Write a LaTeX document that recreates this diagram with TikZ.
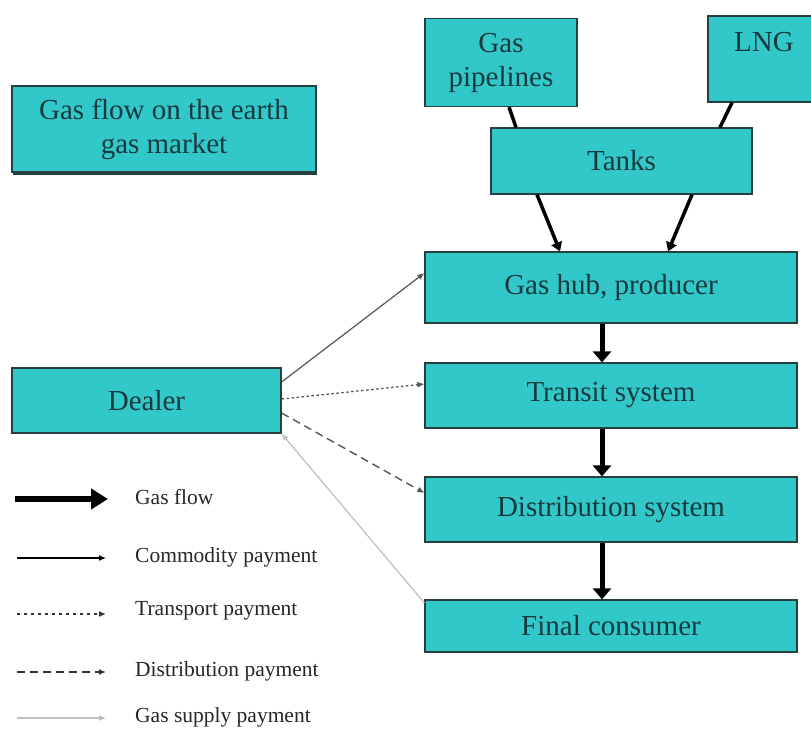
\documentclass[tikz,border=0pt]{standalone}
\usepackage{fontspec}
\setmainfont{Liberation Serif}
\usetikzlibrary{arrows.meta,shadows}
\definecolor{boxfill}{RGB}{50,199,200}
\definecolor{boxline}{RGB}{40,62,64}
\definecolor{boxtext}{RGB}{24,58,62}
\definecolor{paygray}{RGB}{85,85,85}
\definecolor{supplygray}{RGB}{190,190,190}
\begin{document}
\begin{tikzpicture}[x=1pt,y=-1pt,
  box/.style={draw=boxline, line width=1.2pt, fill=boxfill, text=boxtext,
    font=\fontsize{29}{34}\selectfont, align=center, inner sep=0pt},
  flowline/.style={line width=3.5pt, black},
  flowarrow/.style={line width=3.5pt, black, -{Triangle[width=11pt,length=9pt]}},
  bigflow/.style={line width=5pt, black, -{Triangle[width=18pt,length=11pt]}},
  payhead/.style={-{Latex[length=7pt,width=6pt]}},
  commodity/.style={payhead, line width=1.2pt, paygray},
  transport/.style={payhead, line width=1.3pt, paygray, dash pattern=on 2.5pt off 2.5pt},
  distrib/.style={payhead, line width=1.4pt, paygray, dash pattern=on 8pt off 5pt},
  supply/.style={payhead, line width=1.2pt, supplygray},
  legtext/.style={anchor=west, inner sep=0pt, text=black!85, font=\fontsize{21.5}{25}\selectfont}
]
\useasboundingbox (0,0) rectangle (811,733);
\clip (0,0) rectangle (811,733);

% boxes
\node[box, minimum width=304pt, minimum height=86pt,
      drop shadow={shadow xshift=1pt, shadow yshift=-3pt, fill=boxline, opacity=1}]
  (title) at (164,129) {Gas flow on the earth\\gas market};
\node[box, minimum width=152pt, minimum height=88pt] (pipe) at (501,62.5) {Gas\\pipelines};
\node[box, minimum width=112pt, minimum height=86pt] (lng) at (764,59) {LNG\\\mbox{}};
\node[box, minimum width=261pt, minimum height=66pt] (tanks) at (621.5,161) {Tanks};
\node[box, minimum width=372pt, minimum height=71pt] (hub) at (611,287.5) {Gas hub, producer};
\node[box, minimum width=372pt, minimum height=65pt] (transit) at (611,395.5) {Transit system};
\node[box, minimum width=372pt, minimum height=65pt] (dist) at (611,509.5) {Distribution system};
\node[box, minimum width=372pt, minimum height=52pt] (final) at (611,626) {Final consumer};
\node[box, minimum width=269pt, minimum height=65pt] (dealer) at (146.5,400.5) {Dealer};

% gas flow
\draw[flowline] (pipe.south -| 509,0) -- (tanks.north -| 516,0);
\draw[flowline] (lng.south -| 732,0) -- (tanks.north -| 720,0);
\draw[flowarrow] (tanks.south -| 537,0) -- (hub.north -| 560,0);
\draw[flowarrow] (tanks.south -| 692,0) -- (hub.north -| 668,0);
\draw[bigflow] (hub.south -| 602,0) -- (transit.north -| 602,0);
\draw[bigflow] (transit.south -| 602,0) -- (dist.north -| 602,0);
\draw[bigflow] (dist.south -| 602,0) -- (final.north -| 602,0);

% payments
\draw[commodity] (dealer.east |- 0,382) -- (hub.west |- 0,273);
\draw[transport] (dealer.east |- 0,399) -- (transit.west |- 0,384);
\draw[distrib] (dealer.east |- 0,413) -- (dist.west |- 0,493);
\draw[supply] (final.west |- 0,603) -- (dealer.south east);

% legend
\coordinate (l1a) at (15,499); \coordinate (l1b) at (108,499);
\coordinate (l2a) at (17,558); \coordinate (l2b) at (106,558);
\coordinate (l3a) at (17,614); \coordinate (l3b) at (106,614);
\coordinate (l4a) at (17,672); \coordinate (l4b) at (106,672);
\coordinate (l5a) at (17,718); \coordinate (l5b) at (106,718);
\draw[line width=6pt, black, -{Triangle[width=20pt,length=17pt]}] (l1a) -- (l1b);
\draw[payhead, line width=1.2pt, black] (l2a) -- (l2b);
\draw[payhead, line width=1.3pt, black!80, dash pattern=on 3pt off 4pt] (l3a) -- (l3b);
\draw[payhead, line width=1.4pt, black!80, dash pattern=on 8pt off 5pt] (l4a) -- (l4b);
\draw[payhead, line width=1.2pt, supplygray] (l5a) -- (l5b);
\node[legtext] (t1) at (135,497) {Gas flow};
\node[legtext] (t2) at (135,557) {Commodity payment};
\node[legtext] (t3) at (135,611) {Transport payment};
\node[legtext] (t4) at (135,671) {Distribution payment};
\node[legtext] (t5) at (135,717) {Gas supply payment};
\end{tikzpicture}
\end{document}
